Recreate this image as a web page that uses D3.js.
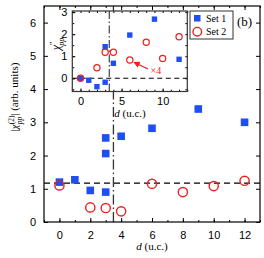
<!DOCTYPE html>
<html>
<head>
<meta charset="utf-8">
<script src="https://cdn.jsdelivr.net/npm/d3@7"></script>
<style>
  body { margin: 0; background: #fff; }
  svg { display: block; font-family: "Liberation Serif", "DejaVu Serif", serif; }
  .axis path { stroke: #000; }
  .axis line { stroke: #000; }
</style>
</head>
<body>
<div id="chart"></div>
<script>
// main panel data
const set1D = [0, 1, 2, 3, 3, 3, 4, 6, 9, 12];
const set1V = [1.2, 1.27, 0.95, 0.9, 2.06, 2.53, 2.58, 2.82, 3.4, 3.0];
const set2D = [0, 2, 3, 4, 6, 8, 10, 12];
const set2V = [1.1, 0.44, 0.42, 0.32, 1.15, 0.9, 1.08, 1.24];
const hLevel = 1.17;
const vLevel = 3.5;

// inset data
const in1D = [0, 1, 2, 3, 3, 4, 6, 9, 12];
const in1V = [0, -0.09, -0.38, -0.18, 1.43, 0.68, 1.96, 2.68, 0.86];
const in2D = [0, 2, 3, 4, 6, 8, 10, 12];
const in2V = [0, 0.48, 1.18, 1.18, 0.83, 1.63, 0.9, 1.88];

const xTicks = [0, 2, 4, 6, 8, 10, 12];
const yTicks = [0, 1, 2, 3, 4, 5, 6];
const inXTicks = [0, 5, 10];
const inYTicks = [0, 1, 2, 3];

const blue = "#1f4ff0";
const red = "#f01e1e";
const fmt = d3.format("d");

const W = 264, H = 258;
const svg = d3.select("#chart").append("svg").attr("width", W).attr("height", H);

const x = d3.scaleLinear().domain([-1, 13]).range([44, 260]);
const y = d3.scaleLinear().domain([0, 6.5]).range([222, 6]);

// reference lines (drawn first so the inset covers them)
svg.append("line")
  .attr("x1", x(-1)).attr("x2", x(13)).attr("y1", y(hLevel)).attr("y2", y(hLevel))
  .attr("stroke", "#000").attr("stroke-width", 1.3).attr("stroke-dasharray", "6,4");
svg.append("line")
  .attr("x1", x(vLevel)).attr("x2", x(vLevel)).attr("y1", y(0)).attr("y2", y(6.5))
  .attr("stroke", "#333").attr("stroke-width", 1.3).attr("stroke-dasharray", "10,3,1.5,3");

// axes helper
function addAxis(axis, tx, ty, labels, fs) {
  const g = svg.append("g").attr("class", "axis")
    .attr("transform", "translate(" + tx + "," + ty + ")").call(axis.tickFormat(fmt));
  g.select(".domain").remove();
  g.selectAll("text").style("font-size", fs + "px").attr("fill", "#000");
  if (!labels) g.selectAll("text").remove();
  return g;
}
const minorX = d3.range(-1, 14, 1);

addAxis(d3.axisBottom(x).tickValues(xTicks).tickSize(-4).tickPadding(9), 0, 222, true, 11);
addAxis(d3.axisBottom(x).tickValues(minorX).tickSize(-2), 0, 222, false, 11);
addAxis(d3.axisTop(x).tickValues(xTicks).tickSize(-4), 0, 6, false, 11);
addAxis(d3.axisTop(x).tickValues(minorX).tickSize(-2), 0, 6, false, 11);
addAxis(d3.axisLeft(y).tickValues(yTicks).tickSize(-4).tickPadding(8), 44, 0, true, 11);
addAxis(d3.axisRight(y).tickValues(yTicks).tickSize(-4), 260, 0, false, 11);

svg.append("rect").attr("x", 44).attr("y", 6).attr("width", 216).attr("height", 216)
  .attr("fill", "none").attr("stroke", "#000").attr("stroke-width", 1.2);

// main markers
svg.append("g").selectAll("rect").data(set1D).join("rect")
  .attr("x", (d, i) => x(d) - 3.8).attr("y", (d, i) => y(set1V[i]) - 3.8)
  .attr("width", 7.6).attr("height", 7.6).attr("fill", blue);
svg.append("g").selectAll("circle").data(set2D).join("circle")
  .attr("cx", d => x(d)).attr("cy", (d, i) => y(set2V[i])).attr("r", 4.6)
  .attr("fill", "none").attr("stroke", red).attr("stroke-width", 1.4);

// axis titles
const xl = svg.append("text").attr("x", 152).attr("y", 250).attr("text-anchor", "middle")
  .style("font-size", "11px");
xl.append("tspan").style("font-style", "italic").text("d");
xl.append("tspan").text(" (u.c.)");

const yl = svg.append("text").attr("transform", "translate(18,97) rotate(-90)")
  .attr("text-anchor", "middle").style("font-size", "11px");
yl.append("tspan").text("|");
yl.append("tspan").style("font-style", "italic").text("χ");
yl.append("tspan").attr("dy", -4).style("font-size", "7.5px").text("(2)");
yl.append("tspan").attr("dx", -8.7).attr("dy", 7.5).style("font-size", "7.5px").style("font-style", "italic").text("pp");
yl.append("tspan").attr("dx", 1).attr("dy", -3.5).text("| (arb. units)");

// legend
const lg = svg.append("g");
lg.append("rect").attr("x", 190).attr("y", 11).attr("width", 43).attr("height", 28)
  .attr("fill", "#fff").attr("stroke", "#333").attr("stroke-width", 1);
lg.append("rect").attr("x", 194).attr("y", 15).attr("width", 6.5).attr("height", 6.5).attr("fill", blue);
lg.append("circle").attr("cx", 197.3).attr("cy", 31.7).attr("r", 4.3)
  .attr("fill", "none").attr("stroke", red).attr("stroke-width", 1.4);
lg.append("text").attr("x", 206).attr("y", 22).style("font-size", "10px").text("Set 1");
lg.append("text").attr("x", 206).attr("y", 35).style("font-size", "10px").text("Set 2");

svg.append("text").attr("x", 237).attr("y", 26).style("font-size", "13px").text("(b)");

// inset
const xi = d3.scaleLinear().domain([-1, 13]).range([72.3, 187.3]);
const yi = d3.scaleLinear().domain([-0.6, 3.05]).range([91.5, 11]);

svg.append("rect").attr("x", 72.3).attr("y", 11).attr("width", 115).attr("height", 80.5)
  .attr("fill", "#fff");

svg.append("line")
  .attr("x1", xi(-1)).attr("x2", xi(13)).attr("y1", yi(0)).attr("y2", yi(0))
  .attr("stroke", "#000").attr("stroke-width", 1.1).attr("stroke-dasharray", "5,3.5");
svg.append("line")
  .attr("x1", xi(vLevel)).attr("x2", xi(vLevel)).attr("y1", yi(-0.6)).attr("y2", yi(3.05))
  .attr("stroke", "#333").attr("stroke-width", 1.1).attr("stroke-dasharray", "8,2.5,1.5,2.5");

const inMinorY = d3.range(-0.5, 3.01, 0.5);
addAxis(d3.axisBottom(xi).tickValues(inXTicks).tickSize(-3).tickPadding(6), 0, 91.5, true, 11);
addAxis(d3.axisBottom(xi).tickValues(minorX).tickSize(-1.8), 0, 91.5, false, 11);
addAxis(d3.axisTop(xi).tickValues(minorX).tickSize(-2), 0, 11, false, 11);
addAxis(d3.axisLeft(yi).tickValues(inYTicks).tickSize(-3).tickPadding(5), 72.3, 0, true, 11);
addAxis(d3.axisLeft(yi).tickValues(inMinorY).tickSize(-2), 72.3, 0, false, 11);
addAxis(d3.axisRight(yi).tickValues(inMinorY).tickSize(-2), 187.3, 0, false, 11);

svg.append("rect").attr("x", 72.3).attr("y", 11).attr("width", 115).attr("height", 80.5)
  .attr("fill", "none").attr("stroke", "#333").attr("stroke-width", 1.2);

svg.append("g").selectAll("rect").data(in1D).join("rect")
  .attr("x", d => xi(d) - 2.7).attr("y", (d, i) => yi(in1V[i]) - 2.7)
  .attr("width", 5.4).attr("height", 5.4).attr("fill", blue);
svg.append("g").selectAll("circle").data(in2D).join("circle")
  .attr("cx", d => xi(d)).attr("cy", (d, i) => yi(in2V[i])).attr("r", 3.1)
  .attr("fill", "none").attr("stroke", red).attr("stroke-width", 1.2);

// "x4" arrow
svg.append("defs").append("marker").attr("id", "ah").attr("viewBox", "0 0 10 10")
  .attr("refX", 8).attr("refY", 5).attr("markerWidth", 5).attr("markerHeight", 5)
  .attr("orient", "auto").append("path").attr("d", "M0,0L10,5L0,10z").attr("fill", red);
svg.append("line").attr("x1", 148).attr("y1", 69).attr("x2", 134.5).attr("y2", 62.5)
  .attr("stroke", red).attr("stroke-width", 1.3).attr("marker-end", "url(#ah)");
svg.append("text").attr("x", 150.5).attr("y", 74).attr("fill", red).style("font-size", "10px").text("×4");

const ixl = svg.append("text").attr("x", 130).attr("y", 117).attr("text-anchor", "middle")
  .style("font-size", "11px");
ixl.append("tspan").style("font-style", "italic").text("d");
ixl.append("tspan").text(" (u.c.)");

const iyl = svg.append("text").attr("transform", "translate(60,44) rotate(-90)")
  .attr("text-anchor", "middle").style("font-size", "12px");
iyl.append("tspan").style("font-style", "italic").text("χ");
iyl.append("tspan").attr("dy", -4.5).style("font-size", "8px").text("″");
iyl.append("tspan").attr("dx", -4).attr("dy", 8).style("font-size", "8px").style("font-style", "italic").text("pp");
</script>
</body>
</html>
